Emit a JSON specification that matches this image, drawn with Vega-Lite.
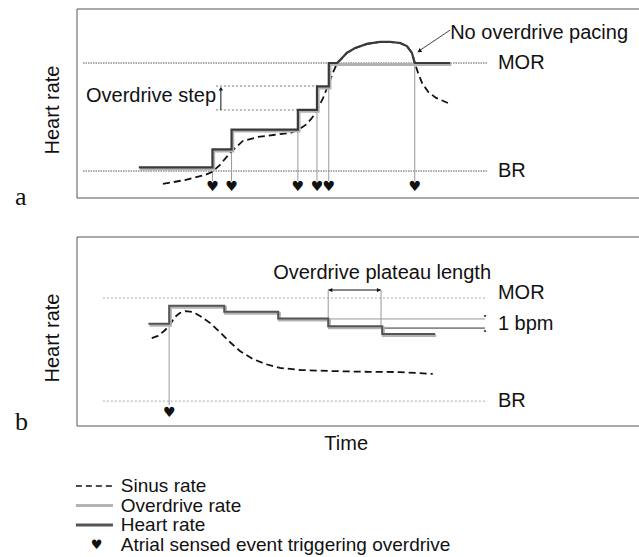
{
  "$schema": "https://vega.github.io/schema/vega-lite/v6.json",
  "padding": {"left": 15, "top": 8, "right": 0, "bottom": 0},
  "background": "white",
  "config": {
    "view": {"stroke": null},
    "text": {"font": "Liberation Sans", "fontSize": 20, "color": "#111"}
  },
  "datasets": {
    "one": [{}],
    "refLines": [{"name": "MOR", "r": 120}, {"name": "BR", "r": 60}],
    "sinusA": [
      {"t": 15.3, "r": 52.8}, {"t": 19.2, "r": 55.0}, {"t": 22.8, "r": 57.8}, {"t": 24.0, "r": 59.4},
      {"t": 25.4, "r": 63.3}, {"t": 27.4, "r": 70.6}, {"t": 29.5, "r": 76.7}, {"t": 32.2, "r": 78.9},
      {"t": 34.9, "r": 80.0}, {"t": 37.9, "r": 81.1}, {"t": 39.3, "r": 82.8}, {"t": 40.7, "r": 85.6},
      {"t": 41.8, "r": 89.4}, {"t": 42.7, "r": 93.9}, {"t": 43.8, "r": 100.6}, {"t": 44.7, "r": 107.8},
      {"t": 45.6, "r": 115.0}, {"t": 46.3, "r": 120.0}, {"t": 47.0, "r": 122.2}, {"t": 48.0, "r": 125.6},
      {"t": 49.5, "r": 128.3}, {"t": 51.6, "r": 130.6}, {"t": 53.9, "r": 131.7}, {"t": 55.7, "r": 131.7},
      {"t": 57.5, "r": 131.1}, {"t": 58.7, "r": 129.4}, {"t": 59.6, "r": 125.6}, {"t": 60.1, "r": 120.0},
      {"t": 60.7, "r": 114.4}, {"t": 61.4, "r": 108.9}, {"t": 62.5, "r": 103.9}, {"t": 63.9, "r": 100.6},
      {"t": 66.0, "r": 97.8}
    ],
    "stepsA": [
      {"t": 11, "r": 62}, {"t": 24.1, "r": 72}, {"t": 27.5, "r": 83}, {"t": 39.3, "r": 94},
      {"t": 42.7, "r": 107}, {"t": 44.8, "r": 120}, {"t": 66.4, "r": 120}
    ],
    "heartA": [
      {"i": 1, "t": 11, "r": 62}, {"i": 2, "t": 24.1, "r": 62}, {"i": 3, "t": 24.1, "r": 72},
      {"i": 4, "t": 27.5, "r": 72}, {"i": 5, "t": 27.5, "r": 83}, {"i": 6, "t": 39.3, "r": 83},
      {"i": 7, "t": 39.3, "r": 94}, {"i": 8, "t": 42.7, "r": 94}, {"i": 9, "t": 42.7, "r": 107},
      {"i": 10, "t": 44.8, "r": 107}, {"i": 11, "t": 44.8, "r": 120}, {"i": 12, "t": 46.3, "r": 120},
      {"i": 13, "t": 47.0, "r": 122.2}, {"i": 14, "t": 48.0, "r": 125.6}, {"i": 15, "t": 49.5, "r": 128.3},
      {"i": 16, "t": 51.6, "r": 130.6}, {"i": 17, "t": 53.9, "r": 131.7}, {"i": 18, "t": 55.7, "r": 131.7},
      {"i": 19, "t": 57.5, "r": 131.1}, {"i": 20, "t": 58.7, "r": 129.4}, {"i": 21, "t": 59.6, "r": 125.6},
      {"i": 22, "t": 60.1, "r": 120}, {"i": 23, "t": 66.4, "r": 120}
    ],
    "eventsA": [
      {"t": 24.1, "top": 60}, {"t": 27.5, "top": 71}, {"t": 39.3, "top": 83},
      {"t": 42.7, "top": 94}, {"t": 44.8, "top": 107}, {"t": 60.1, "top": 120}
    ],
    "stepAnn": [{"r": 107.2, "t2": 42.9}, {"r": 93.9, "t2": 39.3}],
    "annA": [
      {"label": "No overdrive pacing", "t": 66.4, "r": 136.7},
      {"label": "Overdrive step", "t": 1.6, "r": 101.7}
    ],
    "sinusB": [
      {"t": 13.3, "r": 96.7}, {"t": 14.4, "r": 97.9}, {"t": 15.5, "r": 100.8}, {"t": 16.4, "r": 103.7},
      {"t": 17.4, "r": 108.9}, {"t": 18.3, "r": 111.3}, {"t": 19.4, "r": 112.4}, {"t": 20.6, "r": 111.8},
      {"t": 21.9, "r": 109.5}, {"t": 23.7, "r": 105.4}, {"t": 25.4, "r": 100.2}, {"t": 27.2, "r": 94.4},
      {"t": 29.0, "r": 89.1}, {"t": 31.3, "r": 84.5}, {"t": 33.5, "r": 81.6}, {"t": 36.1, "r": 79.3},
      {"t": 39.7, "r": 78.1}, {"t": 45.0, "r": 77.5}, {"t": 52.1, "r": 77.0}, {"t": 57.5, "r": 76.9},
      {"t": 63.3, "r": 75.8}
    ],
    "stepsB": [
      {"t": 12.7, "r": 105}, {"t": 16.4, "r": 115.5}, {"t": 26.2, "r": 112}, {"t": 35.8, "r": 108},
      {"t": 44.7, "r": 103.5}, {"t": 54.3, "r": 99}, {"t": 63.7, "r": 99}
    ],
    "eventsB": [{"t": 16.4, "top": 104}],
    "labelsB": [
      {"label": "MOR", "t": 74.9, "r": 122.7},
      {"label": "BR", "t": 74.9, "r": 60},
      {"label": "1 bpm", "t": 74.9, "r": 104.7},
      {"label": "Overdrive plateau length", "t": 34.9, "r": 134.5}
    ],
    "legend": [
      {"item": "Sinus rate", "k": 1}, {"item": "Overdrive rate", "k": 2}, {"item": "Heart rate", "k": 3},
      {"item": "Atrial sensed event triggering overdrive", "k": 4}
    ]
  },
  "spacing": 39,
  "bounds": "flush",
  "vconcat": [
    {
      "width": 562,
      "height": 189,
      "layer": [
        {"data": {"name": "one"}, "mark": {"type": "rule", "color": "#555", "strokeWidth": 1},
         "encoding": {
           "x": {"datum": 0, "type": "quantitative", "scale": {"domain": [0, 100], "nice": false, "zero": false}, "axis": null},
           "x2": {"datum": 100},
           "y": {"datum": 150, "type": "quantitative", "scale": {"domain": [45, 150], "nice": false, "zero": false}, "axis": null}}},
        {"data": {"name": "one"}, "mark": {"type": "rule", "color": "#555", "strokeWidth": 1},
         "encoding": {
           "x": {"datum": 0, "type": "quantitative", "scale": {"domain": [0, 100], "nice": false, "zero": false}, "axis": null},
           "x2": {"datum": 100},
           "y": {"datum": 45, "type": "quantitative", "scale": {"domain": [45, 150], "nice": false, "zero": false}, "axis": null}}},
        {"data": {"name": "one"}, "mark": {"type": "rule", "color": "#555", "strokeWidth": 1},
         "encoding": {
           "x": {"datum": 0, "type": "quantitative", "scale": {"domain": [0, 100], "nice": false, "zero": false}, "axis": null},
           "y": {"datum": 45, "type": "quantitative", "scale": {"domain": [45, 150], "nice": false, "zero": false}, "axis": null},
           "y2": {"datum": 150}}},
        {"data": {"name": "refLines"}, "mark": {"type": "rule", "color": "#555", "strokeWidth": 1, "strokeDash": [1.5, 1]},
         "encoding": {
           "x": {"datum": 1.07, "type": "quantitative", "scale": {"domain": [0, 100], "nice": false, "zero": false}, "axis": null},
           "x2": {"datum": 72.95},
           "y": {"field": "r", "type": "quantitative", "scale": {"domain": [45, 150], "nice": false, "zero": false}, "axis": null}}},
        {"data": {"name": "refLines"}, "mark": {"type": "text", "align": "left", "baseline": "middle"},
         "encoding": {
           "x": {"datum": 74.9, "type": "quantitative", "scale": {"domain": [0, 100], "nice": false, "zero": false}, "axis": null},
           "y": {"field": "r", "type": "quantitative", "scale": {"domain": [45, 150], "nice": false, "zero": false}, "axis": null},
           "text": {"field": "name"}}},
        {"data": {"name": "stepAnn"}, "mark": {"type": "rule", "color": "#777", "strokeWidth": 1, "strokeDash": [2, 2]},
         "encoding": {
           "x": {"field": "t2", "type": "quantitative", "scale": {"domain": [0, 100], "nice": false, "zero": false}, "axis": null},
           "x2": {"datum": 24.6},
           "y": {"field": "r", "type": "quantitative", "scale": {"domain": [45, 150], "nice": false, "zero": false}, "axis": null}}},
        {"data": {"name": "one"}, "mark": {"type": "rule", "color": "#111", "strokeWidth": 1},
         "encoding": {
           "x": {"datum": 25.6, "type": "quantitative", "scale": {"domain": [0, 100], "nice": false, "zero": false}, "axis": null},
           "y": {"datum": 93.9, "type": "quantitative", "scale": {"domain": [45, 150], "nice": false, "zero": false}, "axis": null},
           "y2": {"datum": 105.5}}},
        {"data": {"name": "one"}, "mark": {"type": "point", "shape": "triangle-up", "filled": true, "color": "#111", "size": 18, "opacity": 1},
         "encoding": {
           "x": {"datum": 25.6, "type": "quantitative", "scale": {"domain": [0, 100], "nice": false, "zero": false}, "axis": null},
           "y": {"datum": 105.8, "type": "quantitative", "scale": {"domain": [45, 150], "nice": false, "zero": false}, "axis": null}}},
        {"data": {"name": "eventsA"}, "mark": {"type": "rule", "color": "#999", "strokeWidth": 1},
         "encoding": {
           "x": {"field": "t", "type": "quantitative", "scale": {"domain": [0, 100], "nice": false, "zero": false}, "axis": null},
           "y": {"field": "top", "type": "quantitative", "scale": {"domain": [45, 150], "nice": false, "zero": false}, "axis": null},
           "y2": {"datum": 54.4}}},
        {"data": {"name": "eventsA"}, "mark": {"type": "text", "font": "DejaVu Sans", "fontSize": 14, "baseline": "middle", "align": "center"},
         "encoding": {
           "x": {"field": "t", "type": "quantitative", "scale": {"domain": [0, 100], "nice": false, "zero": false}, "axis": null},
           "y": {"datum": 51.1, "type": "quantitative", "scale": {"domain": [45, 150], "nice": false, "zero": false}, "axis": null},
           "text": {"value": "♥"}}},
        {"data": {"name": "sinusA"}, "mark": {"type": "line", "color": "#111", "strokeWidth": 1.8, "strokeDash": [7, 4]},
         "encoding": {
           "x": {"field": "t", "type": "quantitative", "scale": {"domain": [0, 100], "nice": false, "zero": false}, "axis": null},
           "y": {"field": "r", "type": "quantitative", "scale": {"domain": [45, 150], "nice": false, "zero": false}, "axis": null}}},
        {"data": {"name": "stepsA"}, "mark": {"type": "line", "interpolate": "step-after", "color": "#b3b3b3", "strokeWidth": 3, "xOffset": 1.2, "yOffset": 1.5},
         "encoding": {
           "x": {"field": "t", "type": "quantitative", "scale": {"domain": [0, 100], "nice": false, "zero": false}, "axis": null},
           "y": {"field": "r", "type": "quantitative", "scale": {"domain": [45, 150], "nice": false, "zero": false}, "axis": null}}},
        {"data": {"name": "heartA"}, "mark": {"type": "line", "color": "#3a3a3a", "strokeWidth": 2.2},
         "encoding": {
           "x": {"field": "t", "type": "quantitative", "scale": {"domain": [0, 100], "nice": false, "zero": false}, "axis": null},
           "y": {"field": "r", "type": "quantitative", "scale": {"domain": [45, 150], "nice": false, "zero": false}, "axis": null},
           "order": {"field": "i", "type": "quantitative"}}},
        {"data": {"name": "annA"}, "mark": {"type": "text", "align": "left", "baseline": "middle"},
         "encoding": {
           "x": {"field": "t", "type": "quantitative", "scale": {"domain": [0, 100], "nice": false, "zero": false}, "axis": null},
           "y": {"field": "r", "type": "quantitative", "scale": {"domain": [45, 150], "nice": false, "zero": false}, "axis": null},
           "text": {"field": "label"}}},
        {"data": {"name": "one"}, "mark": {"type": "rule", "color": "#444", "strokeWidth": 1},
         "encoding": {
           "x": {"datum": 66.4, "type": "quantitative", "scale": {"domain": [0, 100], "nice": false, "zero": false}, "axis": null},
           "y": {"datum": 138.3, "type": "quantitative", "scale": {"domain": [45, 150], "nice": false, "zero": false}, "axis": null},
           "x2": {"datum": 60.9}, "y2": {"datum": 126.8}}},
        {"data": {"name": "one"}, "mark": {"type": "point", "shape": "triangle-up", "filled": true, "color": "#111", "size": 22, "angle": 236, "opacity": 1},
         "encoding": {
           "x": {"datum": 60.9, "type": "quantitative", "scale": {"domain": [0, 100], "nice": false, "zero": false}, "axis": null},
           "y": {"datum": 126.6, "type": "quantitative", "scale": {"domain": [45, 150], "nice": false, "zero": false}, "axis": null}}},
        {"data": {"name": "one"}, "mark": {"type": "text", "angle": 270, "align": "center", "baseline": "middle"},
         "encoding": {
           "x": {"datum": -4.27, "type": "quantitative", "scale": {"domain": [0, 100], "nice": false, "zero": false}, "axis": null},
           "y": {"datum": 93.9, "type": "quantitative", "scale": {"domain": [45, 150], "nice": false, "zero": false}, "axis": null},
           "text": {"value": "Heart rate"}}},
        {"data": {"name": "one"}, "mark": {"type": "text", "font": "Liberation Serif", "fontSize": 26, "align": "left", "baseline": "alphabetic"},
         "encoding": {
           "x": {"datum": -11.03, "type": "quantitative", "scale": {"domain": [0, 100], "nice": false, "zero": false}, "axis": null},
           "y": {"datum": 41.1, "type": "quantitative", "scale": {"domain": [45, 150], "nice": false, "zero": false}, "axis": null},
           "text": {"value": "a"}}}
      ]
    },
    {
      "width": 562,
      "height": 189,
      "layer": [
        {"data": {"name": "one"}, "mark": {"type": "rule", "color": "#555", "strokeWidth": 1},
         "encoding": {
           "x": {"datum": 0, "type": "quantitative", "scale": {"domain": [0, 100], "nice": false, "zero": false}, "axis": null},
           "x2": {"datum": 100},
           "y": {"datum": 155.5, "type": "quantitative", "scale": {"domain": [45.5, 155.5], "nice": false, "zero": false}, "axis": null}}},
        {"data": {"name": "one"}, "mark": {"type": "rule", "color": "#555", "strokeWidth": 1},
         "encoding": {
           "x": {"datum": 0, "type": "quantitative", "scale": {"domain": [0, 100], "nice": false, "zero": false}, "axis": null},
           "x2": {"datum": 100},
           "y": {"datum": 45.5, "type": "quantitative", "scale": {"domain": [45.5, 155.5], "nice": false, "zero": false}, "axis": null}}},
        {"data": {"name": "one"}, "mark": {"type": "rule", "color": "#555", "strokeWidth": 1},
         "encoding": {
           "x": {"datum": 0, "type": "quantitative", "scale": {"domain": [0, 100], "nice": false, "zero": false}, "axis": null},
           "y": {"datum": 45.5, "type": "quantitative", "scale": {"domain": [45.5, 155.5], "nice": false, "zero": false}, "axis": null},
           "y2": {"datum": 155.5}}},
        {"data": {"name": "refLines"}, "mark": {"type": "rule", "color": "#aaa", "strokeWidth": 1, "strokeDash": [2, 2]},
         "encoding": {
           "x": {"datum": 4.6, "type": "quantitative", "scale": {"domain": [0, 100], "nice": false, "zero": false}, "axis": null},
           "x2": {"datum": 72.95},
           "y": {"field": "r", "type": "quantitative", "scale": {"domain": [45.5, 155.5], "nice": false, "zero": false}, "axis": null}}},
        {"data": {"name": "labelsB"}, "mark": {"type": "text", "align": "left", "baseline": "middle"},
         "encoding": {
           "x": {"field": "t", "type": "quantitative", "scale": {"domain": [0, 100], "nice": false, "zero": false}, "axis": null},
           "y": {"field": "r", "type": "quantitative", "scale": {"domain": [45.5, 155.5], "nice": false, "zero": false}, "axis": null},
           "text": {"field": "label"}}},
        {"data": {"name": "one"}, "mark": {"type": "rule", "color": "#111", "strokeWidth": 1},
         "encoding": {
           "x": {"datum": 44.7, "type": "quantitative", "scale": {"domain": [0, 100], "nice": false, "zero": false}, "axis": null},
           "x2": {"datum": 54.1},
           "y": {"datum": 124.65, "type": "quantitative", "scale": {"domain": [45.5, 155.5], "nice": false, "zero": false}, "axis": null}}},
        {"data": {"name": "one"}, "mark": {"type": "point", "shape": "triangle-left", "filled": true, "color": "#111", "size": 18, "opacity": 1},
         "encoding": {
           "x": {"datum": 45.1, "type": "quantitative", "scale": {"domain": [0, 100], "nice": false, "zero": false}, "axis": null},
           "y": {"datum": 124.65, "type": "quantitative", "scale": {"domain": [45.5, 155.5], "nice": false, "zero": false}, "axis": null}}},
        {"data": {"name": "one"}, "mark": {"type": "point", "shape": "triangle-right", "filled": true, "color": "#111", "size": 18, "opacity": 1},
         "encoding": {
           "x": {"datum": 53.7, "type": "quantitative", "scale": {"domain": [0, 100], "nice": false, "zero": false}, "axis": null},
           "y": {"datum": 124.65, "type": "quantitative", "scale": {"domain": [45.5, 155.5], "nice": false, "zero": false}, "axis": null}}},
        {"data": {"name": "one"}, "mark": {"type": "rule", "color": "#999", "strokeWidth": 1},
         "encoding": {
           "x": {"datum": 44.7, "type": "quantitative", "scale": {"domain": [0, 100], "nice": false, "zero": false}, "axis": null},
           "y": {"datum": 124.65, "type": "quantitative", "scale": {"domain": [45.5, 155.5], "nice": false, "zero": false}, "axis": null},
           "y2": {"datum": 107}}},
        {"data": {"name": "one"}, "mark": {"type": "rule", "color": "#999", "strokeWidth": 1},
         "encoding": {
           "x": {"datum": 54.1, "type": "quantitative", "scale": {"domain": [0, 100], "nice": false, "zero": false}, "axis": null},
           "y": {"datum": 124.65, "type": "quantitative", "scale": {"domain": [45.5, 155.5], "nice": false, "zero": false}, "axis": null},
           "y2": {"datum": 102}}},
        {"data": {"name": "one"}, "mark": {"type": "rule", "color": "#999", "strokeWidth": 1},
         "encoding": {
           "x": {"datum": 44.7, "type": "quantitative", "scale": {"domain": [0, 100], "nice": false, "zero": false}, "axis": null},
           "x2": {"datum": 72.6},
           "y": {"datum": 107.8, "type": "quantitative", "scale": {"domain": [45.5, 155.5], "nice": false, "zero": false}, "axis": null}}},
        {"data": {"name": "one"}, "mark": {"type": "rule", "color": "#333", "strokeWidth": 1},
         "encoding": {
           "x": {"datum": 54.1, "type": "quantitative", "scale": {"domain": [0, 100], "nice": false, "zero": false}, "axis": null},
           "x2": {"datum": 72.6},
           "y": {"datum": 102.5, "type": "quantitative", "scale": {"domain": [45.5, 155.5], "nice": false, "zero": false}, "axis": null}}},
        {"data": {"name": "one"}, "mark": {"type": "point", "shape": "triangle-down", "filled": true, "color": "#111", "size": 8, "opacity": 1},
         "encoding": {
           "x": {"datum": 72.6, "type": "quantitative", "scale": {"domain": [0, 100], "nice": false, "zero": false}, "axis": null},
           "y": {"datum": 109.3, "type": "quantitative", "scale": {"domain": [45.5, 155.5], "nice": false, "zero": false}, "axis": null}}},
        {"data": {"name": "one"}, "mark": {"type": "point", "shape": "triangle-up", "filled": true, "color": "#111", "size": 8, "opacity": 1},
         "encoding": {
           "x": {"datum": 72.6, "type": "quantitative", "scale": {"domain": [0, 100], "nice": false, "zero": false}, "axis": null},
           "y": {"datum": 101, "type": "quantitative", "scale": {"domain": [45.5, 155.5], "nice": false, "zero": false}, "axis": null}}},
        {"data": {"name": "eventsB"}, "mark": {"type": "rule", "color": "#999", "strokeWidth": 1},
         "encoding": {
           "x": {"field": "t", "type": "quantitative", "scale": {"domain": [0, 100], "nice": false, "zero": false}, "axis": null},
           "y": {"field": "top", "type": "quantitative", "scale": {"domain": [45.5, 155.5], "nice": false, "zero": false}, "axis": null},
           "y2": {"datum": 57.7}}},
        {"data": {"name": "eventsB"}, "mark": {"type": "text", "font": "DejaVu Sans", "fontSize": 14, "baseline": "middle", "align": "center"},
         "encoding": {
           "x": {"field": "t", "type": "quantitative", "scale": {"domain": [0, 100], "nice": false, "zero": false}, "axis": null},
           "y": {"datum": 53.1, "type": "quantitative", "scale": {"domain": [45.5, 155.5], "nice": false, "zero": false}, "axis": null},
           "text": {"value": "♥"}}},
        {"data": {"name": "sinusB"}, "mark": {"type": "line", "color": "#111", "strokeWidth": 1.8, "strokeDash": [7, 4]},
         "encoding": {
           "x": {"field": "t", "type": "quantitative", "scale": {"domain": [0, 100], "nice": false, "zero": false}, "axis": null},
           "y": {"field": "r", "type": "quantitative", "scale": {"domain": [45.5, 155.5], "nice": false, "zero": false}, "axis": null}}},
        {"data": {"name": "stepsB"}, "mark": {"type": "line", "interpolate": "step-after", "color": "#b3b3b3", "strokeWidth": 3, "xOffset": 1.2, "yOffset": 1.5},
         "encoding": {
           "x": {"field": "t", "type": "quantitative", "scale": {"domain": [0, 100], "nice": false, "zero": false}, "axis": null},
           "y": {"field": "r", "type": "quantitative", "scale": {"domain": [45.5, 155.5], "nice": false, "zero": false}, "axis": null}}},
        {"data": {"name": "stepsB"}, "mark": {"type": "line", "interpolate": "step-after", "color": "#555", "strokeWidth": 2},
         "encoding": {
           "x": {"field": "t", "type": "quantitative", "scale": {"domain": [0, 100], "nice": false, "zero": false}, "axis": null},
           "y": {"field": "r", "type": "quantitative", "scale": {"domain": [45.5, 155.5], "nice": false, "zero": false}, "axis": null}}},
        {"data": {"name": "one"}, "mark": {"type": "text", "angle": 270, "align": "center", "baseline": "middle"},
         "encoding": {
           "x": {"datum": -4.27, "type": "quantitative", "scale": {"domain": [0, 100], "nice": false, "zero": false}, "axis": null},
           "y": {"datum": 96.7, "type": "quantitative", "scale": {"domain": [45.5, 155.5], "nice": false, "zero": false}, "axis": null},
           "text": {"value": "Heart rate"}}},
        {"data": {"name": "one"}, "mark": {"type": "text", "font": "Liberation Serif", "fontSize": 26, "align": "left", "baseline": "alphabetic"},
         "encoding": {
           "x": {"datum": -11.03, "type": "quantitative", "scale": {"domain": [0, 100], "nice": false, "zero": false}, "axis": null},
           "y": {"datum": 43.2, "type": "quantitative", "scale": {"domain": [45.5, 155.5], "nice": false, "zero": false}, "axis": null},
           "text": {"value": "b"}}},
        {"data": {"name": "one"}, "mark": {"type": "text", "align": "center", "baseline": "middle"},
         "encoding": {
           "x": {"datum": 47.9, "type": "quantitative", "scale": {"domain": [0, 100], "nice": false, "zero": false}, "axis": null},
           "y": {"datum": 35.0, "type": "quantitative", "scale": {"domain": [45.5, 155.5], "nice": false, "zero": false}, "axis": null},
           "text": {"value": "Time"}}}
      ]
    },
    {
      "width": 562,
      "height": 90,
      "data": {"name": "legend"},
      "layer": [
        {"transform": [{"filter": "datum.item === 'Sinus rate'"}],
         "mark": {"type": "rule", "color": "#111", "strokeWidth": 1.5, "strokeDash": [6, 4]},
         "encoding": {
           "x": {"datum": -0.2, "type": "quantitative", "scale": {"domain": [0, 100], "nice": false, "zero": false}, "axis": null},
           "x2": {"datum": 6.4},
           "y": {"field": "k", "type": "quantitative", "scale": {"domain": [-0.077, 4.538], "reverse": true, "nice": false, "zero": false}, "axis": null}}},
        {"transform": [{"filter": "datum.item === 'Overdrive rate'"}],
         "mark": {"type": "rule", "color": "#b3b3b3", "strokeWidth": 3},
         "encoding": {
           "x": {"datum": -0.2, "type": "quantitative", "scale": {"domain": [0, 100], "nice": false, "zero": false}, "axis": null},
           "x2": {"datum": 6.4},
           "y": {"field": "k", "type": "quantitative", "scale": {"domain": [-0.077, 4.538], "reverse": true, "nice": false, "zero": false}, "axis": null}}},
        {"transform": [{"filter": "datum.item === 'Heart rate'"}],
         "mark": {"type": "rule", "color": "#555", "strokeWidth": 3},
         "encoding": {
           "x": {"datum": -0.2, "type": "quantitative", "scale": {"domain": [0, 100], "nice": false, "zero": false}, "axis": null},
           "x2": {"datum": 6.4},
           "y": {"field": "k", "type": "quantitative", "scale": {"domain": [-0.077, 4.538], "reverse": true, "nice": false, "zero": false}, "axis": null}}},
        {"transform": [{"filter": "datum.item === 'Atrial sensed event triggering overdrive'"}],
         "mark": {"type": "text", "font": "DejaVu Sans", "fontSize": 13, "align": "center", "baseline": "middle"},
         "encoding": {
           "x": {"datum": 3.5, "type": "quantitative", "scale": {"domain": [0, 100], "nice": false, "zero": false}, "axis": null},
           "y": {"field": "k", "type": "quantitative", "scale": {"domain": [-0.077, 4.538], "reverse": true, "nice": false, "zero": false}, "axis": null},
           "text": {"value": "♥"}}},
        {"mark": {"type": "text", "align": "left", "baseline": "middle", "fontSize": 19},
         "encoding": {
           "x": {"datum": 7.8, "type": "quantitative", "scale": {"domain": [0, 100], "nice": false, "zero": false}, "axis": null},
           "y": {"field": "k", "type": "quantitative", "scale": {"domain": [-0.077, 4.538], "reverse": true, "nice": false, "zero": false}, "axis": null},
           "text": {"field": "item"}}}
      ]
    }
  ]
}
